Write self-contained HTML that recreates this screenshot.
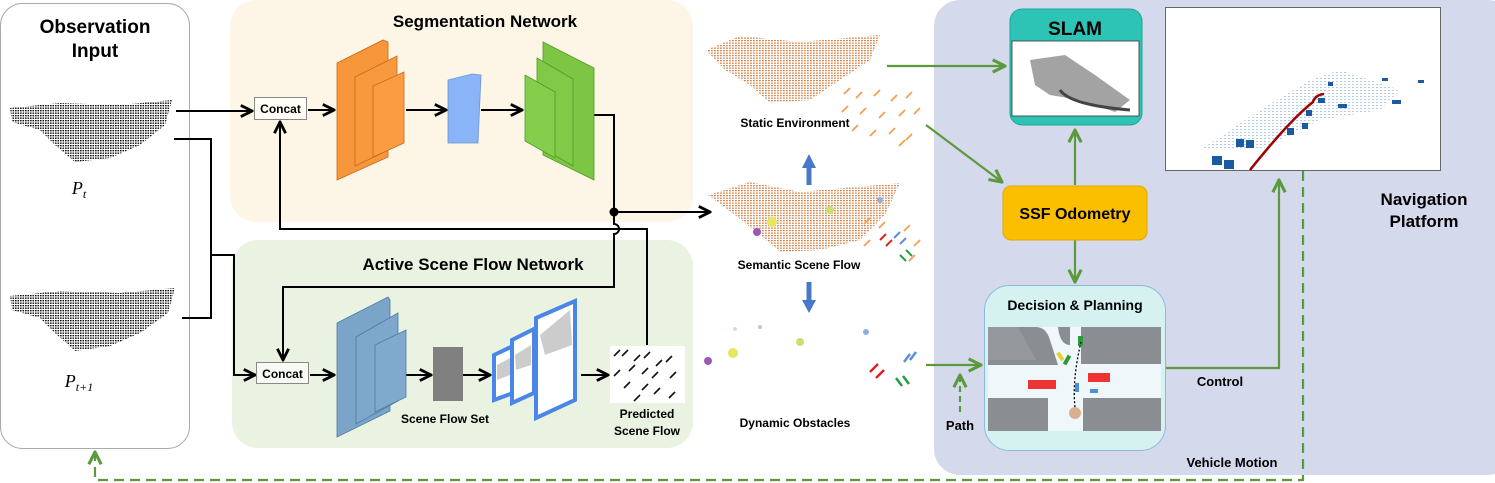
<!DOCTYPE html>
<html><head><meta charset="utf-8"><style>
html,body{margin:0;padding:0;background:#fff;overflow:hidden;}
svg{display:block;font-family:"Liberation Sans",Arial,sans-serif;}
.b{font-weight:bold;}
</style></head><body>
<svg width="1495" height="483" viewBox="0 0 1495 483" xmlns="http://www.w3.org/2000/svg">
<defs>
<pattern id="dk" width="2.5" height="2.5" patternUnits="userSpaceOnUse"><rect width="1.6" height="1.4" fill="#111"/></pattern>
<pattern id="or" width="3" height="2.5" patternUnits="userSpaceOnUse"><rect width="1.8" height="1.3" fill="#d5844a"/></pattern>
<pattern id="bl" width="4" height="3" patternUnits="userSpaceOnUse"><rect width="2" height="1" fill="#a9c6e3"/></pattern>
<marker id="ak" viewBox="0 0 10 10" refX="9" refY="5" markerWidth="7" markerHeight="7" orient="auto"><path d="M1,1 L9,5 L1,9" fill="none" stroke="#000" stroke-width="2"/></marker>
<marker id="ag" viewBox="0 0 10 10" refX="9" refY="5" markerWidth="7" markerHeight="7" orient="auto"><path d="M1,1 L9,5 L1,9" fill="none" stroke="#5b9a3c" stroke-width="2"/></marker>
</defs>

<rect x="230" y="0" width="463" height="222" rx="26" fill="#fdf6e6"/>
<rect x="232" y="240" width="461" height="208" rx="26" fill="#eaf3e2"/>
<rect x="934" y="0" width="580" height="475" rx="26" fill="#d5d9ec"/>
<rect x="0.5" y="3.5" width="189" height="445" rx="22" fill="#fff" stroke="#aaa" stroke-width="1"/>

<text x="95" y="33" font-size="19" class="b" text-anchor="middle">Observation</text>
<text x="95" y="57" font-size="19" class="b" text-anchor="middle">Input</text>
<text x="485" y="27" font-size="17" class="b" text-anchor="middle">Segmentation Network</text>
<text x="473" y="270" font-size="17" class="b" text-anchor="middle">Active Scene Flow Network</text>

<path d="M10,108 L60,103 L120,105 L172,100 L165,125 L140,145 L110,158 L75,162 L55,145 L40,130 L12,122 Z" fill="url(#dk)"/>
<path d="M10,296 L60,291 L120,293 L175,288 L168,313 L140,333 L110,346 L75,351 L55,333 L40,318 L12,310 Z" fill="url(#dk)"/>
<text x="79" y="194" font-size="18" font-style="italic" font-family="Liberation Serif,serif" text-anchor="middle">P<tspan font-size="12" dy="4">t</tspan></text>
<text x="79" y="387" font-size="18" font-style="italic" font-family="Liberation Serif,serif" text-anchor="middle">P<tspan font-size="12" dy="4">t+1</tspan></text>

<g fill="none" stroke="#000" stroke-width="2">
<path d="M176,111 H252" marker-end="url(#ak)"/>
<path d="M174,139 H211 V318 H182"/>
<path d="M211,255 H234 V375 H255" marker-end="url(#ak)"/>
<path d="M308,110 H334" marker-end="url(#ak)"/>
<path d="M406,110 H446" marker-end="url(#ak)"/>
<path d="M481,110 H522" marker-end="url(#ak)"/>
<path d="M594,115 H614 V212 H710" marker-end="url(#ak)"/>
<path d="M614,212 V224 A5,5 0 0 1 614,234 V287 H283 V360" marker-end="url(#ak)"/>
<path d="M647,345 V229 H280 V122" marker-end="url(#ak)"/>
<path d="M310,375 H334" marker-end="url(#ak)"/>
<path d="M406,375 H431" marker-end="url(#ak)"/>
<path d="M463,375 H490" marker-end="url(#ak)"/>
<path d="M581,375 H608" marker-end="url(#ak)"/>
</g>
<circle cx="614" cy="212" r="4.5" fill="#000"/>

<rect x="254.5" y="97.5" width="52" height="22" fill="#fffdf5" stroke="#888"/>
<text x="280.5" y="113" font-size="12" class="b" text-anchor="middle">Concat</text>
<rect x="256.5" y="362.5" width="52" height="21" fill="#f7fbf3" stroke="#888"/>
<text x="282.5" y="378" font-size="12" class="b" text-anchor="middle">Concat</text>

<g stroke="#c96a1a" stroke-width="0.8">
<path d="M337,63 L383,40 L388,42 L388,157 L337,180 Z" fill="#f7963a"/>
<path d="M355,77 L397,56 L397,146 L355,166 Z" fill="#f9993e"/>
<path d="M373,86 L404,72 L404,143 L373,157 Z" fill="#fb9c42"/>
</g>
<path d="M448,80 L472,74 L481,75 L478,143 L448,143 Z" fill="#8ab4f8" stroke="#6a94d8" stroke-width="0.8"/>
<g stroke="#4e9a28" stroke-width="0.8">
<path d="M543,42 L594,68 L594,180 L543,155 Z" fill="#7cc644"/>
<path d="M537,58 L573,79 L573,166 L537,145 Z" fill="#80ca48"/>
<path d="M525,75 L555,92 L555,158 L525,141 Z" fill="#84ce4c"/>
</g>

<g stroke="#4f7aa0" stroke-width="0.8">
<path d="M337,323 L388,297 L390,300 L390,411 L337,437 Z" fill="#7aa4c8"/>
<path d="M356,337 L398,313 L398,401 L356,424 Z" fill="#7da7cb"/>
<path d="M375,345 L406,330 L406,397 L375,412 Z" fill="#80aacd"/>
</g>
<rect x="433" y="347" width="30" height="54" fill="#808080"/>
<g stroke="#4a86e8" stroke-width="4" fill="#fff">
<path d="M494,355 L513,346 L513,393 L494,400 Z"/>
<path d="M512,340 L534,329 L534,393 L512,403 Z"/>
<path d="M536,318 L575,301 L575,400 L536,418 Z"/>
</g>
<path d="M540,335 L570,310 L572,345 L545,355 Z" fill="#ccc"/>
<path d="M515,355 L531,345 L531,365 L516,370 Z" fill="#ccc"/>
<path d="M497,365 L510,358 L510,375 L497,380 Z" fill="#ccc"/>
<rect x="610" y="346" width="75" height="57" fill="#fff"/>
<g stroke="#111" stroke-width="1.6" fill="none">
<path d="M620,350 l-6,6 M628,350 l-6,6 M640,355 l-6,6 M650,352 l-6,6 M662,360 l-6,6 M672,356 l-6,6 M620,370 l-6,6 M635,365 l-6,6 M648,368 l-6,6 M658,372 l-6,6 M676,372 l-6,6 M630,382 l-6,6 M648,384 l-6,6 M660,388 l-6,6 M675,392 l-6,6 M640,395 l-6,6"/>
</g>
<text x="445" y="423" font-size="12" class="b" text-anchor="middle">Scene Flow Set</text>
<text x="647" y="418" font-size="12" class="b" text-anchor="middle">Predicted</text>
<text x="647" y="435" font-size="12" class="b" text-anchor="middle">Scene Flow</text>

<path d="M706,50 L740,36 L800,42 L880,35 L870,60 L840,80 L810,100 L770,103 L750,85 L725,70 Z" fill="url(#or)"/>
<g stroke="#f0a050" stroke-width="1.8" fill="none">
<path d="M850,88 l-6,6 M862,92 l-6,6 M880,90 l-6,6 M897,95 l-6,6 M912,92 l-6,6 M848,106 l-6,6 M866,108 l-6,6 M885,112 l-6,6 M905,110 l-6,6 M920,108 l-6,6 M858,125 l-6,6 M876,130 l-6,6 M895,128 l-6,6 M912,134 l-6,6 M905,140 l-6,6"/>
</g>
<text x="795" y="127" font-size="12" class="b" text-anchor="middle">Static Environment</text>
<path d="M708,195 L750,182 L800,192 L900,183 L885,215 L860,240 L820,250 L780,252 L760,235 L735,215 Z" fill="url(#or)"/>
<g><circle cx="772" cy="222" r="5" fill="#e6e660"/><circle cx="757" cy="232" r="4" fill="#9b59b6"/><circle cx="830" cy="210" r="4" fill="#c8e070"/><circle cx="880" cy="200" r="3" fill="#8fb0e0"/></g>
<g stroke="#f0a050" stroke-width="1.8" fill="none"><path d="M870,218 l-6,6 M885,222 l-6,6 M910,225 l-6,6 M920,240 l-6,6 M915,255 l-6,6 M870,240 l-6,6"/></g>
<path d="M880,240 l6,-6 M886,246 l6,-6" stroke="#e02020" stroke-width="2"/>
<path d="M900,232 l-6,6 M906,238 l-6,6" stroke="#5a90d0" stroke-width="2"/>
<path d="M900,255 l6,6 M906,250 l6,6" stroke="#20a040" stroke-width="2"/>
<text x="799" y="269" font-size="12" class="b" text-anchor="middle">Semantic Scene Flow</text>
<path d="M809,185 V166" stroke="#4a78c8" stroke-width="5"/><path d="M802,168 L809,154 L816,168 Z" fill="#4a78c8"/>
<path d="M809,282 V302" stroke="#4a78c8" stroke-width="5"/><path d="M802,300 L809,313 L816,300 Z" fill="#4a78c8"/>
<g><circle cx="733" cy="353" r="5" fill="#e6e660"/><circle cx="708" cy="361" r="4" fill="#9b59b6"/><circle cx="800" cy="342" r="4" fill="#c8e070"/><circle cx="866" cy="332" r="3" fill="#8fb0e0"/><circle cx="735" cy="329" r="2" fill="#cde"/><circle cx="760" cy="327" r="2" fill="#dbc"/></g>
<path d="M870,372 l8,-8 M876,378 l8,-8" stroke="#e02020" stroke-width="2.5"/>
<path d="M910,354 l-6,8 M916,352 l-6,8" stroke="#5a90d0" stroke-width="2.5"/>
<path d="M896,378 l6,8 M903,376 l6,8" stroke="#20a040" stroke-width="2.5"/>
<text x="795" y="427" font-size="12" class="b" text-anchor="middle">Dynamic Obstacles</text>

<g fill="none" stroke="#5b9a3c" stroke-width="2.2">
<path d="M887,66 H1005" marker-end="url(#ag)"/>
<path d="M926,125 L1002,182" marker-end="url(#ag)"/>
<path d="M1075,185 V130" marker-end="url(#ag)"/>
<path d="M1075,240 V282" marker-end="url(#ag)"/>
<path d="M926,365 H981" marker-end="url(#ag)"/>
<path d="M1166,368 H1279 V180" marker-end="url(#ag)"/>
<path d="M960,412 V375" stroke-dasharray="6,4" marker-end="url(#ag)"/>
<path d="M1303,171 V480 H95 V452" stroke-dasharray="10,6" marker-end="url(#ag)"/>
</g>

<rect x="1010" y="9" width="132" height="116" rx="12" fill="#2ec4b5" stroke="#1fa596"/>
<text x="1075" y="35" font-size="19" class="b" text-anchor="middle">SLAM</text>
<rect x="1012" y="41" width="127" height="75" fill="#fff" stroke="#333" stroke-width="0.8"/>
<path d="M1030,60 L1065,55 L1095,75 L1130,100 L1115,112 L1080,100 L1050,95 L1035,85 Z" fill="#666" opacity="0.6"/>
<path d="M1060,90 Q1070,105 1130,110" stroke="#444" stroke-width="3" fill="none"/>

<rect x="1003" y="186" width="144" height="54" rx="8" fill="#fbbf00" stroke="#e0a800"/>
<text x="1075" y="219" font-size="16" class="b" text-anchor="middle">SSF Odometry</text>

<rect x="984.5" y="285.5" width="181" height="165" rx="25" fill="#d5f2f0" stroke="#8fb8d8"/>
<text x="1075" y="310" font-size="14" class="b" text-anchor="middle">Decision &amp; Planning</text>
<rect x="988" y="327" width="173" height="104" fill="#f0f7fb"/>
<path d="M988,327 H1036 Q1046,327 1050,340 L1058,365 H988 Z" fill="#8a8e93"/>
<path d="M988,327 H1018 L1036,360 H988 Z" fill="#95999e"/>
<path d="M1058,327 H1070 V345 Q1060,345 1058,327 Z" fill="#8a8e93"/>
<rect x="1081" y="327" width="80" height="37" fill="#8a8e93"/>
<rect x="988" y="398" width="60" height="33" fill="#8a8e93"/>
<rect x="1083" y="398" width="78" height="33" fill="#8a8e93"/>
<rect x="1028" y="380" width="28" height="9" fill="#e33"/>
<rect x="1088" y="373" width="22" height="9" fill="#e33"/>
<rect x="1078" y="336" width="5" height="10" fill="#2a9a3a"/>
<rect x="1058" y="352" width="4" height="9" fill="#e8d030" transform="rotate(-35 1060 356)"/>
<rect x="1065" y="355" width="4" height="10" fill="#2a9a3a" transform="rotate(30 1067 360)"/>
<rect x="1075" y="383" width="4" height="9" fill="#4a90e0"/>
<rect x="1090" y="389" width="8" height="4" fill="#4a90e0"/>
<circle cx="1075" cy="413" r="6" fill="#d8b090"/>
<path d="M1075,407 Q1072,380 1081,342" stroke="#000" stroke-width="1.3" stroke-dasharray="2,2" fill="none"/>

<rect x="1165.5" y="7.5" width="275" height="163" fill="#fff" stroke="#666"/>
<path d="M1200,150 L1260,110 L1310,80 L1340,70 L1400,90 L1380,110 L1320,120 L1260,150 Z" fill="url(#bl)" opacity="0.9"/>
<path d="M1250,170 Q1290,120 1313,102 Q1315,95 1324,94" stroke="#a00000" stroke-width="2.5" fill="none"/>
<g fill="#1a5aa0"><rect x="1212" y="156" width="10" height="9"/><rect x="1224" y="160" width="10" height="9"/><rect x="1236" y="139" width="8" height="8"/><rect x="1246" y="140" width="8" height="8"/><rect x="1287" y="128" width="7" height="7"/><rect x="1302" y="123" width="6" height="6"/><rect x="1306" y="110" width="6" height="6"/><rect x="1318" y="98" width="7" height="5"/><rect x="1338" y="104" width="9" height="4"/><rect x="1392" y="100" width="9" height="4"/><rect x="1382" y="78" width="6" height="3"/><rect x="1418" y="80" width="6" height="3"/><rect x="1328" y="82" width="5" height="4"/></g>

<text x="960" y="430" font-size="13" class="b" text-anchor="middle">Path</text>
<text x="1220" y="386" font-size="13" class="b" text-anchor="middle">Control</text>
<text x="1232" y="467" font-size="13" class="b" text-anchor="middle">Vehicle Motion</text>
<text x="1424" y="205" font-size="17" class="b" text-anchor="middle">Navigation</text>
<text x="1424" y="227" font-size="17" class="b" text-anchor="middle">Platform</text>
</svg>
</body></html>
